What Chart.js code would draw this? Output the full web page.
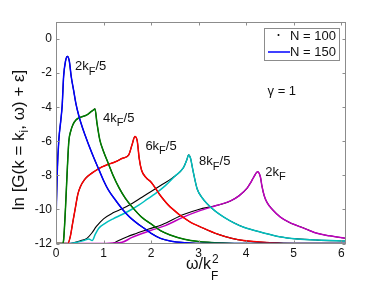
<!DOCTYPE html>
<html><head><meta charset="utf-8">
<script src="https://cdn.jsdelivr.net/npm/chart.js@4.4.0/dist/chart.umd.min.js"></script>
<style>html,body{margin:0;padding:0;background:#fff;}canvas{display:block;}</style>
</head><body>
<canvas id="c" width="382" height="286"></canvas>
<script>
// ---- tick labels ----
const xTicks = [0, 1, 2, 3, 4, 5, 6];
const yTicks = [-12, -10, -8, -6, -4, -2, 0];

// ---- N = 150 curves ----
const k2x = [0,0.025,0.06,0.1,0.13,0.16,0.2,0.24,0.28,0.32,0.37,0.42,0.48,0.55,0.62,0.7,0.8,0.9,1.0,1.1,1.25,1.4,1.55,1.7,1.85,2.0,2.2,2.4,2.7,3.2,6.1];
const k2y = [-10.7,-7.9,-5.9,-4.8,-3.9,-2.2,-1.3,-1.02,-1.3,-2.2,-3.0,-3.8,-4.5,-5.15,-5.7,-6.3,-7.0,-7.65,-8.3,-8.85,-9.45,-10.0,-10.45,-10.8,-11.1,-11.4,-11.7,-11.85,-11.95,-12,-12];

const k4x = [0,0.14,0.16,0.2,0.24,0.27,0.31,0.36,0.42,0.48,0.56,0.65,0.72,0.78,0.82,0.86,0.92,1.0,1.1,1.2,1.33,1.46,1.6,1.8,2.0,2.2,2.4,2.7,3.0,3.5,4.0,6.1];
const k4y = [-12,-12,-11.8,-9.9,-7.5,-6.0,-5.4,-5.0,-4.75,-4.63,-4.55,-4.45,-4.3,-4.18,-4.1,-4.9,-5.9,-6.6,-7.3,-8.0,-8.75,-9.35,-9.85,-10.45,-10.85,-11.25,-11.5,-11.75,-11.88,-11.97,-12,-12];

const k6x = [0,0.25,0.3,0.35,0.41,0.46,0.51,0.6,0.69,0.8,0.97,1.1,1.25,1.4,1.53,1.6,1.66,1.71,1.75,1.8,1.9,2.0,2.2,2.4,2.8,3.1,3.4,3.7,3.95,4.5,5.0,6.1];
const k6y = [-12,-12,-11.6,-10.8,-9.86,-9.1,-8.68,-8.25,-8.0,-7.78,-7.5,-7.35,-7.2,-7.0,-6.8,-6.2,-5.72,-6.0,-7.0,-7.7,-8.15,-8.4,-9.2,-9.85,-10.7,-11.1,-11.45,-11.7,-11.83,-11.95,-12,-12];

const k8x = [0,0.2,0.4,0.58,0.69,0.76,0.83,0.9,1.04,1.2,1.39,1.56,1.74,1.92,2.09,2.3,2.5,2.68,2.75,2.79,2.83,2.88,2.97,3.07,3.18,3.35,3.53,3.75,3.95,4.37,4.7,5.07,5.5,6.1];
const k8y = [-12,-12,-11.95,-11.83,-11.73,-11.83,-11.44,-11.1,-10.8,-10.55,-10.3,-10.05,-9.75,-9.4,-9.07,-8.6,-8.05,-7.55,-7.1,-6.8,-7.0,-7.7,-8.8,-9.3,-9.67,-10.1,-10.45,-10.8,-11.05,-11.38,-11.6,-11.73,-11.8,-11.85];

const k10x = [0,1.0,1.2,1.39,1.6,1.99,2.3,2.68,3.0,3.39,3.67,3.85,4.02,4.1,4.16,4.24,4.3,4.33,4.38,4.44,4.55,4.72,4.9,5.07,5.3,5.49,5.75,6.1];
const k10y = [-12,-12,-11.97,-11.93,-11.64,-11.24,-10.95,-10.45,-10.1,-9.76,-9.5,-9.2,-8.75,-8.4,-8.1,-7.79,-8.1,-8.6,-9.2,-9.6,-10.0,-10.45,-10.75,-10.95,-11.2,-11.4,-11.55,-11.7];

// ---- N = 100 curves (differ from N = 150 on the rising parts of 8kF/5 and 2kF) ----
const n100k8x = [0.3,0.5,0.65,0.75,0.85,1.0,1.2,1.4,1.6,1.8,2.0,2.2,2.45,2.68,2.75,2.79,2.83,2.88,2.97,3.07,3.18,3.35,3.53,3.75,3.95,4.37,4.7,5.07,5.5,6.1];
const n100k8y = [-12,-11.85,-11.7,-11.4,-11.0,-10.55,-10.2,-9.95,-9.65,-9.3,-8.95,-8.6,-8.15,-7.55,-7.1,-6.8,-7.0,-7.7,-8.8,-9.3,-9.67,-10.1,-10.45,-10.8,-11.05,-11.38,-11.6,-11.73,-11.8,-11.85];
const n100k10x = [1.2,1.32,1.5,1.7,1.95,2.23,2.68,3.0,3.39,3.67,3.85,4.02,4.1,4.16,4.24,4.3,4.33,4.38,4.44,4.55,4.72,4.9,5.07,5.3,5.49,5.75,6.1];
const n100k10y = [-12,-11.83,-11.6,-11.4,-11.15,-10.9,-10.3,-10.0,-9.76,-9.5,-9.2,-8.75,-8.4,-8.1,-7.79,-8.1,-8.6,-9.2,-9.6,-10.0,-10.45,-10.75,-10.95,-11.2,-11.4,-11.55,-11.7];

// ---- curve labels (anchored at data coordinates) ----
const curveLabels = [
  {x:0.40, y:-1.62, pre:'2k', sub:'F', post:'/5'},
  {x:0.99, y:-4.65, pre:'4k', sub:'F', post:'/5'},
  {x:1.88, y:-6.3,  pre:'6k', sub:'F', post:'/5'},
  {x:3.01, y:-7.2,  pre:'8k', sub:'F', post:'/5'},
  {x:4.40, y:-7.8,  pre:'2k', sub:'F', post:''}
];

const pts = (xs, ys) => xs.map((v, i) => ({x: v, y: ys[i]}));
const colors = ['#0000ff', '#008000', '#ff0000', '#00bfbf', '#bf00bf'];
const n150 = [[k2x,k2y],[k4x,k4y],[k6x,k6y],[k8x,k8y],[k10x,k10y]];
const n100 = [[k2x,k2y],[k4x,k4y],[k6x,k6y],[n100k8x,n100k8y],[n100k10x,n100k10y]];

const datasets = [];
n150.forEach((s, i) => datasets.push({label:'N = 150', data: pts(s[0], s[1]), borderColor: colors[i], borderWidth: 1.5, pointRadius: 0, order: 1, cubicInterpolationMode: 'monotone'}));
n100.forEach((s, i) => datasets.push({label:'N = 100', data: pts(s[0], s[1]), borderColor: '#000000', borderWidth: 1.1, pointRadius: 0, order: 2, cubicInterpolationMode: 'monotone'}));

const FONT = '"Liberation Sans", Arial, Helvetica, sans-serif';

function drawSubText(ctx, x, y, parts, size) {
  let cx = x;
  parts.forEach(p => {
    if (p.mode === 'sub') {
      ctx.font = (size * 0.85) + 'px ' + FONT;
      ctx.fillText(p.t, cx, y + size * 0.38);
    } else {
      ctx.font = size + 'px ' + FONT;
      ctx.fillText(p.t, cx, y);
    }
    cx += ctx.measureText(p.t).width;
  });
  return cx - x;
}

const decorPlugin = {
  id: 'decor',
  afterDatasetsDraw(chart) {
    const {ctx, chartArea: a, scales: {x, y}} = chart;
    ctx.save();
    const L = Math.round(a.left) + 0.5, R = Math.round(a.right) - 0.5;
    const T = Math.round(a.top) + 0.5, B = Math.round(a.bottom) - 0.5;
    ctx.strokeStyle = '#8c8c8c';
    ctx.lineWidth = 1;
    ctx.strokeRect(L, T, R - L, B - T);
    ctx.beginPath();
    xTicks.forEach(v => {
      const px = Math.round(x.getPixelForValue(v)) + 0.5;
      ctx.moveTo(px, B); ctx.lineTo(px, B - 3);
      ctx.moveTo(px, T); ctx.lineTo(px, T + 3);
    });
    yTicks.forEach(v => {
      const py = Math.round(y.getPixelForValue(v)) + 0.5;
      ctx.moveTo(L, py); ctx.lineTo(L + 3, py);
      ctx.moveTo(R, py); ctx.lineTo(R - 3, py);
    });
    ctx.stroke();

    ctx.fillStyle = '#111';
    ctx.textBaseline = 'middle';
    ctx.textAlign = 'left';
    curveLabels.forEach(c => {
      const px = x.getPixelForValue(c.x), py = y.getPixelForValue(c.y);
      drawSubText(ctx, px, py, [{t:c.pre},{t:c.sub, mode:'sub'},{t:c.post}], 13);
    });

    ctx.font = '13px ' + FONT;
    ctx.fillText('\u03b3 = 1', x.getPixelForValue(4.45), y.getPixelForValue(-3.05));

    const bx = 264.5, by = 28.5, bw = 75, bh = 32;
    ctx.fillStyle = '#fff';
    ctx.fillRect(bx, by, bw, bh);
    ctx.strokeStyle = '#8c8c8c';
    ctx.strokeRect(bx, by, bw, bh);
    ctx.fillStyle = '#000';
    ctx.beginPath(); ctx.arc(278.5, 35, 1, 0, Math.PI * 2); ctx.fill();
    ctx.strokeStyle = colors[0]; ctx.lineWidth = 1.5;
    ctx.beginPath(); ctx.moveTo(268, 52); ctx.lineTo(290, 52); ctx.stroke();
    ctx.fillStyle = '#111';
    ctx.font = '13px ' + FONT;
    ctx.fillText('N = 100', 290, 36);
    ctx.fillText('N = 150', 290, 52.5);

    ctx.font = '16px ' + FONT;
    ctx.textBaseline = 'alphabetic';
    const main = '\u03c9/k';
    const w = ctx.measureText(main).width;
    const x0 = 186;
    ctx.fillText(main, x0, 269);
    ctx.font = '12px ' + FONT;
    ctx.fillText('2', x0 + w + 1, 263);
    ctx.fillText('F', x0 + w, 280);

    ctx.save();
    ctx.translate(24, 140);
    ctx.rotate(-Math.PI / 2);
    const s1 = 'ln [G(k = k', s2 = 'i', s3 = ', \u03c9) + \u03b5]';
    ctx.font = '17px ' + FONT; const w1 = ctx.measureText(s1).width;
    ctx.font = '12px ' + FONT; const w2 = ctx.measureText(s2).width;
    ctx.font = '17px ' + FONT; const w3 = ctx.measureText(s3).width;
    let sx = -(w1 + w2 + w3) / 2;
    ctx.fillText(s1, sx, 0); sx += w1;
    ctx.font = '12px ' + FONT; ctx.fillText(s2, sx, 4); sx += w2;
    ctx.font = '17px ' + FONT; ctx.fillText(s3, sx, 0);
    ctx.restore();

    ctx.restore();
  }
};

new Chart(document.getElementById('c'), {
  type: 'line',
  data: { datasets },
  options: {
    responsive: false,
    animation: false,
    devicePixelRatio: 1,
    layout: { padding: { left: 0, top: 22, right: 36, bottom: 0 } },
    plugins: { legend: { display: false }, tooltip: { enabled: false } },
    elements: { line: { tension: 0 } },
    scales: {
      x: {
        type: 'linear', min: 0, max: 6.1,
        afterBuildTicks: s => { s.ticks = xTicks.map(v => ({value: v})); },
        afterFit: s => { s.height = 42.5; },
        grid: { display: false, drawTicks: false },
        border: { display: false },
        ticks: { padding: 3, color: '#111', font: { family: FONT, size: 12 }, maxRotation: 0, autoSkip: false }
      },
      y: {
        type: 'linear', min: -12, max: 1,
        afterBuildTicks: s => { s.ticks = yTicks.map(v => ({value: v})); },
        afterFit: s => { s.width = 56; },
        grid: { display: false, drawTicks: false },
        border: { display: false },
        ticks: { padding: 4, color: '#111', font: { family: FONT, size: 12 }, autoSkip: false }
      }
    }
  },
  plugins: [decorPlugin]
});
</script>
</body></html>
